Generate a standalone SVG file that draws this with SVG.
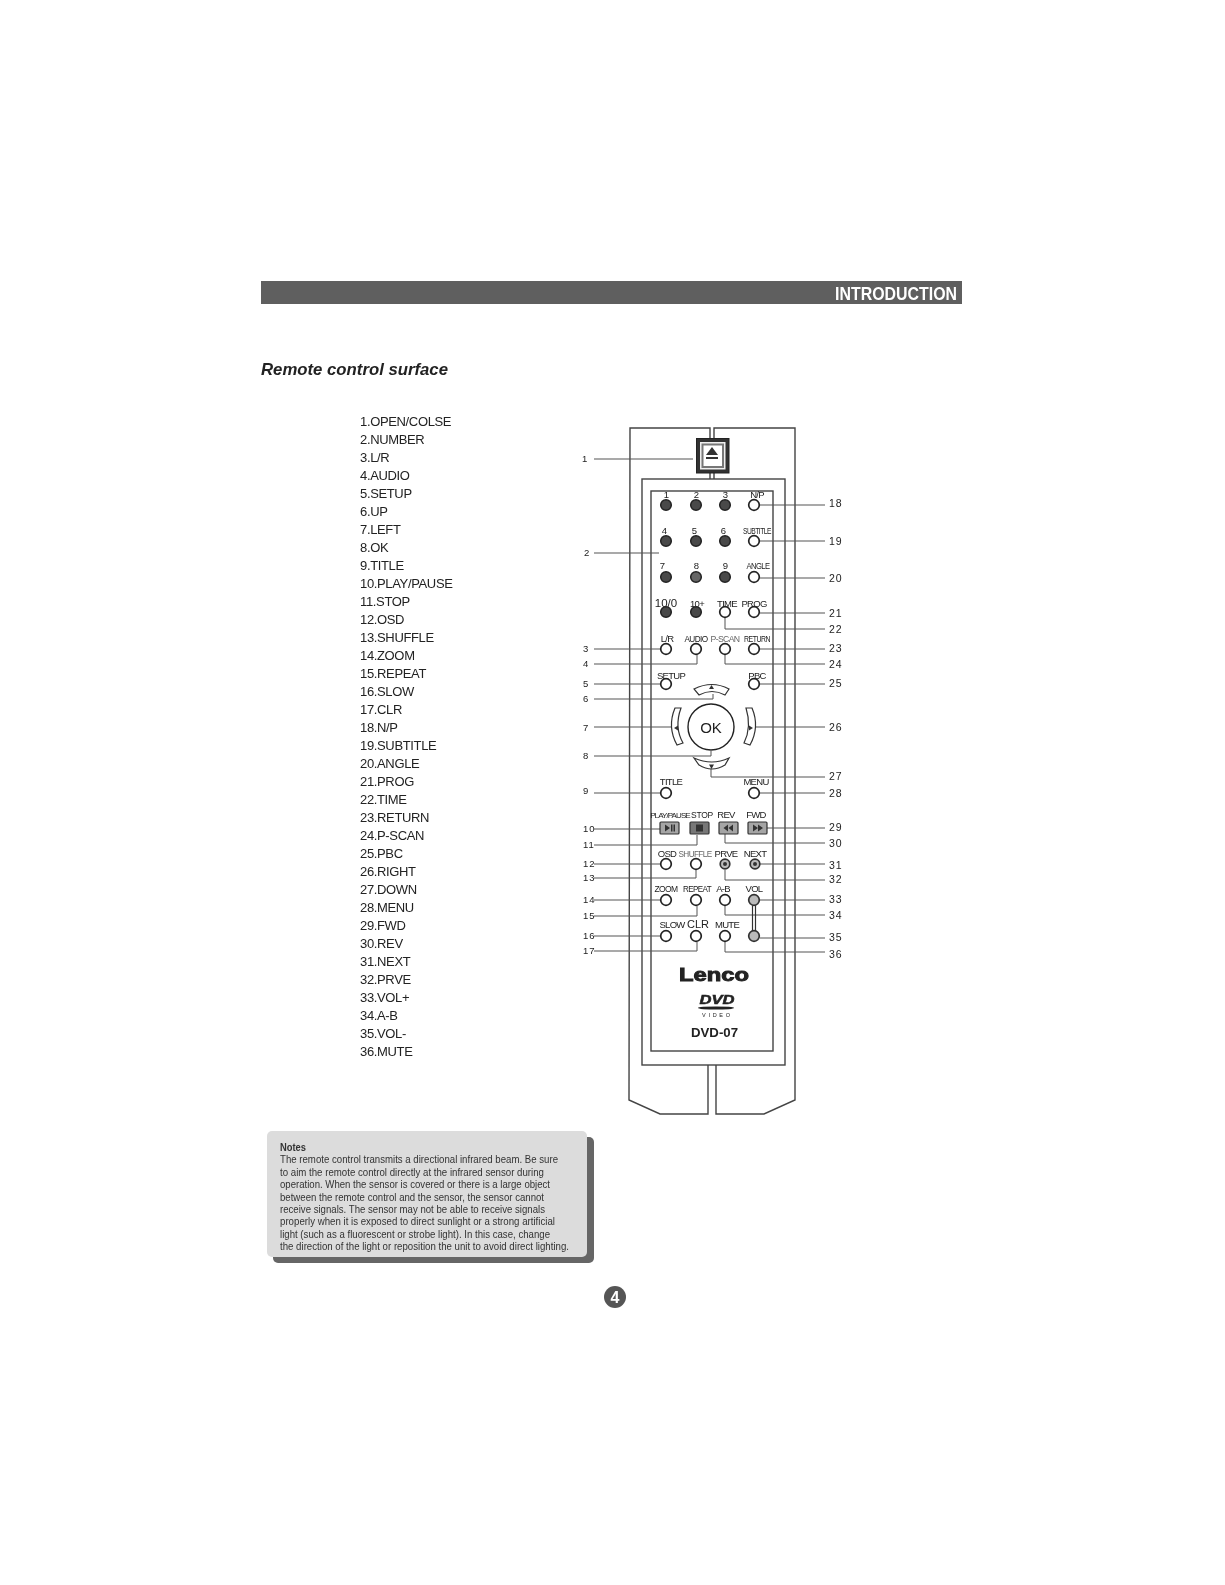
<svg xmlns="http://www.w3.org/2000/svg" width="1225" height="1585" viewBox="0 0 1225 1585">
<style>
text{font-family:"Liberation Sans",Arial,sans-serif;fill:#222}
.list{font-size:13px;letter-spacing:-.35px}
.num{font-size:9.5px;fill:#444;letter-spacing:1px}
.k{font-size:9.5px;text-anchor:middle;letter-spacing:-.7px}
.ln{fill:none;stroke:#555;stroke-width:1}
.body{fill:none;stroke:#444;stroke-width:1.4}
.b{fill:#fff;stroke:#222;stroke-width:1.7}
.d{fill:#4a4a4a;stroke:#222;stroke-width:1.5}
.g{fill:#bbb;stroke:#333;stroke-width:1.7}
.ctl{fill:#a5a5a5;stroke:#333;stroke-width:1.2}
.ic{fill:#333}
.note{font-size:10.3px;fill:#333}
</style>
<defs><filter id="soft" x="0" y="0" width="100%" height="100%"><feGaussianBlur stdDeviation="0.35"/></filter></defs>
<rect width="1225" height="1585" fill="#fff"/>
<g filter="url(#soft)">
<g id="header">
<rect x="261" y="281" width="701" height="23" fill="#5f5f5f"/>
<text x="835" y="300" font-size="17.500" font-weight="700" style="fill:#fff" textLength="122" lengthAdjust="spacingAndGlyphs">INTRODUCTION</text>
</g>
<text id="section-title" x="261" y="375" font-size="17" font-weight="700" font-style="italic" textLength="187" lengthAdjust="spacingAndGlyphs">Remote control surface</text>
<g id="function-list" class="list">
<text x="360" y="425.5">1.OPEN/COLSE</text><text x="360" y="443.5">2.NUMBER</text><text x="360" y="461.5">3.L/R</text><text x="360" y="479.5">4.AUDIO</text><text x="360" y="497.5">5.SETUP</text><text x="360" y="515.5">6.UP</text><text x="360" y="533.5">7.LEFT</text><text x="360" y="551.5">8.OK</text><text x="360" y="569.5">9.TITLE</text><text x="360" y="587.5">10.PLAY/PAUSE</text><text x="360" y="605.6">11.STOP</text><text x="360" y="623.6">12.OSD</text><text x="360" y="641.6">13.SHUFFLE</text><text x="360" y="659.6">14.ZOOM</text><text x="360" y="677.6">15.REPEAT</text><text x="360" y="695.6">16.SLOW</text><text x="360" y="713.6">17.CLR</text><text x="360" y="731.6">18.N/P</text><text x="360" y="749.6">19.SUBTITLE</text><text x="360" y="767.6">20.ANGLE</text><text x="360" y="785.7">21.PROG</text><text x="360" y="803.7">22.TIME</text><text x="360" y="821.7">23.RETURN</text><text x="360" y="839.7">24.P-SCAN</text><text x="360" y="857.7">25.PBC</text><text x="360" y="875.7">26.RIGHT</text><text x="360" y="893.7">27.DOWN</text><text x="360" y="911.7">28.MENU</text><text x="360" y="929.7">29.FWD</text><text x="360" y="947.7">30.REV</text><text x="360" y="965.8">31.NEXT</text><text x="360" y="983.8">32.PRVE</text><text x="360" y="1001.8">33.VOL+</text><text x="360" y="1019.8">34.A-B</text><text x="360" y="1037.8">35.VOL-</text><text x="360" y="1055.8">36.MUTE</text>
</g>
<g id="remote-body">
<path class="body" d="M710,438V428H630L629,1100L660,1114H708V1065M714,438V428H795V1100L764,1114H716V1065M710,473V479M714,473V479"/>
<rect class="body" x="642" y="479" width="143" height="586" fill="none"/>
<rect class="body" x="651" y="491" width="122" height="560" fill="none"/>
</g>
<g id="connectors" class="ln">
<path d="M594,459H693M594,553H659M594,649H660M594,664H697V654M594,684H660M594,699H713V694M594,727H672M594,756H711V751M594,793H660M594,829H660M594,845H697V835M594,864H660M594,878H696V870M594,900H660M594,916H697V906M594,936H660M594,951H697V942"/>
<path d="M760,505H825M760,541H825M760,578H825M760,613H825M725,618V629H825M760,649H825M725,655V664H825M760,684H825M750,727H825M711,766V777H825M760,793H825M767,828H825M725,834V843H825M760,864H825M725,870V880H825M760,900H825M725,906V915H825M760,938H825M725,942V952H825"/>
</g>
<g id="eject">
<rect x="696.5" y="438.5" width="32.500" height="34.500" fill="#333" stroke="#222"/>
<rect x="700" y="442" width="25.500" height="27.500" fill="#eee"/>
<rect x="701.500" y="443.500" width="22.500" height="24.500" fill="#777"/>
<rect x="703.500" y="445.500" width="18.500" height="20.500" fill="#fff"/>
<path class="ic" d="M712,447L718,455H706ZM706,457H718V459H706Z"/>
</g>
<g id="number-buttons">
<circle class="d" cx="666" cy="505" r="5.3"/><circle class="d" cx="696" cy="505" r="5.3"/><circle class="d" cx="725" cy="505" r="5.3"/>
<circle class="d" cx="666" cy="541" r="5.3"/><circle class="d" cx="696" cy="541" r="5.3"/><circle class="d" cx="725" cy="541" r="5.3"/>
<circle class="d" cx="666" cy="577" r="5.3"/><circle class="d" cx="696" cy="577" r="5.3" style="fill:#666"/><circle class="d" cx="725" cy="577" r="5.3"/>
<circle class="d" cx="666" cy="612" r="5.3"/><circle class="d" cx="696" cy="612" r="5.3"/>
<g class="k"><text x="666" y="498">1</text><text x="696" y="498">2</text><text x="725" y="498">3</text>
<text x="664" y="534">4</text><text x="694" y="534">5</text><text x="723" y="534">6</text>
<text x="662" y="569">7</text><text x="696" y="569">8</text><text x="725" y="569">9</text>
<text x="666" y="607" style="font-size:11.5px;letter-spacing:0">10/0</text><text x="697" y="607">10+</text></g>
</g>
<g id="round-buttons">
<circle class="b" cx="754" cy="505" r="5.3"/><circle class="b" cx="754" cy="541" r="5.3"/><circle class="b" cx="754" cy="577" r="5.3"/>
<circle class="b" cx="725" cy="612" r="5.3"/><circle class="b" cx="754" cy="612" r="5.3"/>
<circle class="b" cx="666" cy="649" r="5.3"/><circle class="b" cx="696" cy="649" r="5.3"/><circle class="b" cx="725" cy="649" r="5.3"/><circle class="b" cx="754" cy="649" r="5.3"/>
<circle class="b" cx="666" cy="684" r="5.3"/><circle class="b" cx="754" cy="684" r="5.3"/>
<circle class="b" cx="666" cy="793" r="5.3"/><circle class="b" cx="754" cy="793" r="5.3"/>
<circle class="b" cx="666" cy="864" r="5.3"/><circle class="b" cx="696" cy="864" r="5.3"/>
<circle class="b" cx="666" cy="900" r="5.3"/><circle class="b" cx="696" cy="900" r="5.3"/><circle class="b" cx="725" cy="900" r="5.3"/>
<circle class="b" cx="666" cy="936" r="5.3"/><circle class="b" cx="696" cy="936" r="5.3"/><circle class="b" cx="725" cy="936" r="5.3"/>
<path d="M752.5,904V932M755.5,904V932" fill="none" stroke="#333" stroke-width="1.2"/>
<circle class="g" cx="754" cy="900" r="5.3"/><circle class="g" cx="754" cy="936" r="5.3"/>
<circle class="g" cx="725" cy="864" r="4.8"/><circle class="g" cx="755" cy="864" r="4.8"/>
<circle class="ic" cx="725" cy="864" r="2"/><circle class="ic" cx="755" cy="864" r="2"/>
</g>
<g id="button-labels" class="k">
<text x="757" y="498">N/P</text>
<text x="757" y="534" textLength="28" lengthAdjust="spacingAndGlyphs">SUBTITLE</text>
<text x="758" y="569" textLength="23" lengthAdjust="spacingAndGlyphs">ANGLE</text>
<text x="727" y="607">TIME</text><text x="754" y="607">PROG</text>
<text x="667" y="642">L/R</text>
<text x="696" y="642" textLength="23" lengthAdjust="spacingAndGlyphs">AUDIO</text>
<text x="725" y="642" style="fill:#666" textLength="29" lengthAdjust="spacingAndGlyphs">P-SCAN</text>
<text x="757" y="642" textLength="26" lengthAdjust="spacingAndGlyphs">RETURN</text>
<text x="671" y="679">SETUP</text><text x="757" y="679">PBC</text>
<text x="671" y="785">TITLE</text><text x="756" y="785">MENU</text>
<text x="670" y="818" style="font-size:8px;letter-spacing:-.9px">PLAY/PAUSE</text>
<text x="702" y="818" style="font-size:8.500px;letter-spacing:-.3px">STOP</text>
<text x="726" y="818">REV</text><text x="756" y="818">FWD</text>
<text x="667" y="857">OSD</text>
<text x="695" y="857" style="fill:#666" textLength="33" lengthAdjust="spacingAndGlyphs">SHUFFLE</text>
<text x="726" y="857">PRVE</text><text x="755" y="857">NEXT</text>
<text x="666" y="892" textLength="23" lengthAdjust="spacingAndGlyphs">ZOOM</text>
<text x="697" y="892" textLength="28" lengthAdjust="spacingAndGlyphs">REPEAT</text>
<text x="723" y="892">A-B</text><text x="754" y="892">VOL</text>
<text x="672" y="928">SLOW</text><text x="698" y="928" style="font-size:11px;letter-spacing:0">CLR</text><text x="727" y="928">MUTE</text>
</g>
<g id="nav-keys">
<circle cx="711" cy="727" r="23" fill="#fff" stroke="#222" stroke-width="1.4"/>
<text x="711" y="732.500" font-size="15" text-anchor="middle">OK</text>
<path d="M694,689Q712,680 729,689L725,695Q712,688 699,695Z" fill="#fff" stroke="#333" stroke-width="1.2"/>
<path d="M694,758Q712,766 729,758L725,765Q712,773 699,765Z" fill="#fff" stroke="#333" stroke-width="1.2"/>
<path d="M675,708H681Q674,727 683,743L677,745Q667,727 675,708Z" fill="#fff" stroke="#333" stroke-width="1.2"/>
<path d="M746,708H752Q760,727 750,745L744,743Q752,727 746,708Z" fill="#fff" stroke="#333" stroke-width="1.2"/>
<path class="ic" d="M711.5,685L714,689H709ZM711.5,769L709,764.500H714ZM674,728L678,725.500V730.500ZM753,728L749,725.500V730.500Z"/>
</g>
<g id="transport-buttons">
<rect class="ctl" x="660" y="822" width="19" height="12" rx="1"/><rect class="ctl" x="690" y="822" width="19" height="12" rx="1" style="fill:#777"/><rect class="ctl" x="719" y="822" width="19" height="12" rx="1"/><rect class="ctl" x="748" y="822" width="19" height="12" rx="1"/>
<path class="ic" d="M665,824.500L670,828L665,831.500ZM671,824.500H672.500V831.500H671ZM673.500,824.500H675V831.500H673.500ZM696,824.500H703V831.500H696ZM728,824.500V831.500L723.500,828ZM733,824.500V831.500L728.500,828ZM753,824.500L758,828L753,831.500ZM758,824.500L763,828L758,831.500Z"/>
</g>
<g id="callout-numbers-left" class="num">
<text x="582" y="462">1</text><text x="584" y="556">2</text><text x="583" y="652">3</text><text x="583" y="667">4</text><text x="583" y="687">5</text><text x="583" y="702">6</text><text x="583" y="731">7</text><text x="583" y="759">8</text><text x="583" y="794">9</text><text x="583" y="832">10</text><text x="583" y="848">11</text><text x="583" y="867">12</text><text x="583" y="881">13</text><text x="583" y="903">14</text><text x="583" y="919">15</text><text x="583" y="939">16</text><text x="583" y="954">17</text>
</g>
<g id="callout-numbers-right" class="num" style="font-size:10.5px">
<text x="829" y="507">18</text><text x="829" y="545">19</text><text x="829" y="582">20</text><text x="829" y="617">21</text><text x="829" y="633">22</text><text x="829" y="652">23</text><text x="829" y="668">24</text><text x="829" y="687">25</text><text x="829" y="731">26</text><text x="829" y="780">27</text><text x="829" y="797">28</text><text x="829" y="831">29</text><text x="829" y="847">30</text><text x="829" y="869">31</text><text x="829" y="883">32</text><text x="829" y="903">33</text><text x="829" y="919">34</text><text x="829" y="941">35</text><text x="829" y="958">36</text>
</g>
<g id="branding">
<text x="679" y="981" font-size="18" font-weight="700" textLength="70" lengthAdjust="spacingAndGlyphs" stroke="#222" stroke-width=".9">Lenco</text>
<text x="717" y="1004" font-size="12" font-weight="700" font-style="italic" text-anchor="middle" textLength="35" lengthAdjust="spacingAndGlyphs" stroke="#222" stroke-width=".5">DVD</text>
<ellipse cx="716" cy="1008" rx="18" ry="1.6" fill="#222"/>
<text x="716" y="1017" font-size="5.500" text-anchor="middle" textLength="28">VIDEO</text>
<text x="691" y="1037" font-size="13.500" font-weight="700" textLength="47" lengthAdjust="spacingAndGlyphs">DVD-07</text>
</g>
<g id="notes">
<rect x="273" y="1137" width="321" height="126" rx="5" fill="#666"/>
<rect x="267" y="1131" width="320" height="126" rx="5" fill="#dcdcdc"/>
<text class="note" x="280" y="1151" font-weight="700" textLength="26" lengthAdjust="spacingAndGlyphs">Notes</text>
<text class="note" x="280" y="1163" textLength="278" lengthAdjust="spacingAndGlyphs">The remote control transmits a directional infrared beam. Be sure</text>
<text class="note" x="280" y="1175.500" textLength="264" lengthAdjust="spacingAndGlyphs">to aim the remote control directly at the infrared sensor during</text>
<text class="note" x="280" y="1188" textLength="270" lengthAdjust="spacingAndGlyphs">operation. When the sensor is covered or there is a large object</text>
<text class="note" x="280" y="1200.500" textLength="264" lengthAdjust="spacingAndGlyphs">between the remote control and the sensor, the sensor cannot</text>
<text class="note" x="280" y="1213" textLength="265" lengthAdjust="spacingAndGlyphs">receive signals. The sensor may not be able to receive signals</text>
<text class="note" x="280" y="1225" textLength="275" lengthAdjust="spacingAndGlyphs">properly when it is exposed to direct sunlight or a strong artificial</text>
<text class="note" x="280" y="1237.500" textLength="270" lengthAdjust="spacingAndGlyphs">light (such as a fluorescent or strobe light). In this case, change</text>
<text class="note" x="280" y="1250" textLength="289" lengthAdjust="spacingAndGlyphs">the direction of the light or reposition the unit to avoid direct lighting.</text>
</g>
<g id="page-number">
<circle cx="615" cy="1297" r="11" fill="#555"/>
<text x="615" y="1303" font-size="16" font-weight="700" text-anchor="middle" style="fill:#fff">4</text>
</g>
</g>
</svg>
